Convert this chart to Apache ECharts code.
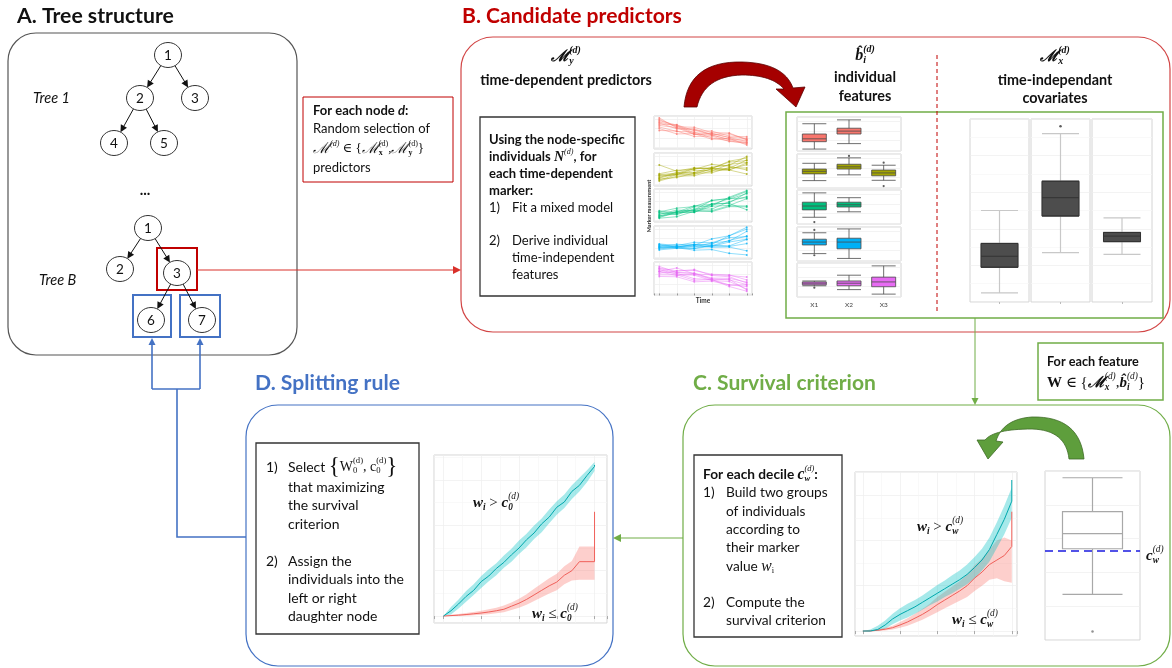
<!DOCTYPE html>
<html><head><meta charset="utf-8">
<script src="https://cdn.jsdelivr.net/npm/echarts@6/dist/echarts.min.js"></script>
<style>html,body{margin:0;padding:0;background:#fff}#c{width:1172px;height:668px}</style>
</head><body><div id="c"></div>
<script>
// ================= DATA =================
const tree1Labels = ['1','2','3','4','5'];
const tree1Edges = [[0,1],[0,2],[1,3],[1,4]];
const treeBLabels = ['1','2','3','6','7'];
const treeBEdges = [[0,1],[0,2],[2,3],[2,4]];

const trajTimes = [0,1,2,3,4,5];
const trajRed = [
 [9.4,6.2,5.9,4.1,4.3,2.6],[8.5,7.1,4.6,4.5,3.2,2.9],[7.8,5.9,5.6,null,2.4,1.6],[7.0,6.3,4.1,4.4,3.1,1.9],
 [6.5,5.1,4.9,3.0,null,1.2],[8.1,6.8,4.2,3.9,2.6,2.3],[6.0,4.3,4.4,2.6,2.9,0.8],[7.4,7.2,5.3,5.2,3.6,3.4],
 [5.4,5.2,3.5,3.6,1.9,1.5],[8.9,6.6,6.4,4.7,4.6,2.4]];
const trajOlive = [
 [2.0,3.4,3.8,5.5,6.1,8.9],[2.6,3.1,4.5,4.3,6.4,7.0],[1.4,3.1,3.2,5.0,4.7,6.3],[3.1,3.6,5.1,5.0,7.4,8.4],
 [6.2,4.2,5.3,5.1,4.6,3.3],[2.2,3.8,3.6,4.9,5.1,7.8],[1.7,2.2,3.6,3.7,5.4,5.2],[3.4,4.5,4.8,6.4,5.8,4.6],
 [2.9,3.2,5.0,5.2,7.1,7.6],[1.1,2.6,2.8,4.3,4.6,6.8]];
const trajGreen = [
 [1.5,2.1,4.3,4.6,7.4,9.5],[0.9,2.6,2.6,5.1,5.6,8.8],[2.1,2.6,4.7,5.1,6.9,7.2],[1.1,2.7,2.6,4.5,4.8,6.9],
 [2.7,3.9,4.4,6.3,7.1,9.2],[0.7,1.2,2.9,3.1,4.7,4.6],[1.9,3.3,3.1,5.3,5.4,3.4],[2.6,1.8,3.7,3.6,6.0,7.6],
 [1.4,2.9,3.3,6.4,6.8,8.5],[3.1,2.2,3.2,2.8,4.4,4.3]];
const trajBlue = [
 [3.6,3.3,4.1,4.2,6.9,9.0],[3.1,3.6,3.3,4.6,5.2,8.3],[3.9,3.3,4.2,3.7,5.4,6.8],[2.7,3.3,2.9,3.9,3.7,5.7],
 [4.1,3.5,3.9,3.2,3.3,2.1],[3.0,3.1,2.3,2.5,1.3,0.8],[3.5,4.2,3.9,5.9,6.9,9.6],[2.4,2.9,2.8,3.6,3.5,4.4],
 [4.3,3.8,4.8,4.7,6.3,6.6],[3.3,3.0,3.6,3.5,4.9,5.8]];
const trajPink = [
 [8.1,7.2,7.3,6.1,5.9,4.3],[7.0,6.4,4.7,4.4,2.7,2.2],[6.4,7.1,7.6,5.7,5.3,3.3],[7.6,6.1,5.8,4.1,3.8,1.4],
 [5.9,5.9,4.2,4.4,2.2,0.7],[7.9,6.6,6.5,4.6,4.3,2.8],[5.4,5.3,3.7,3.9,2.7,2.7],[7.1,8.1,6.2,5.9,5.7,5.2],
 [6.9,5.7,6.1,4.5,4.5,1.1],[8.6,6.7,6.3,4.9,4.8,3.6]];

const featCategories = ['X1','X2','X3'];
const featBoxes1 = [[0.3,2.6,3.5,5.0,8.2],[2.0,5.0,5.9,6.8,9.4]];
const featBoxes2 = [[2.0,4.1,4.9,5.6,7.4],[3.8,5.6,6.3,7.1,9.1],[2.1,3.5,4.4,5.3,6.8]];
const featBoxes3 = [[1.8,4.1,5.3,6.5,9.4],[3.5,5.0,5.7,6.5,7.9]];
const featBoxes4 = [[2.0,4.7,5.6,6.5,8.5],[0.5,3.5,5.6,6.8,9.7]];
const featBoxes5 = [[3.2,3.5,4.0,4.4,4.7],[2.0,3.2,4.0,4.7,6.5],[0.6,2.9,4.4,5.9,9.4]];
const featOutliers1 = [];
const featOutliers2 = [[1,9.7],[2,7.6],[2,0.3]];
const featOutliers3 = [[0,0.3]];
const featOutliers4 = [[0,9.4],[0,1.5]];
const featOutliers5 = [[0,2.6]];

const covBoxes = [[0.5,1.9,2.5,3.2,5.0],[2.7,4.7,5.7,6.6,9.2],[2.6,3.3,3.6,3.8,4.6]];
const covOutliers = [[],[9.6],[]];

const survTimes = [0,0.2,0.4,0.6,0.8,1.0,1.2,1.4,1.6,1.8,2.0,2.2,2.4,2.6,2.8,3.0,3.2,3.4,3.6,3.8,4.0,4.0];
const cyanD   = [0,0.035,0.08,0.13,0.17,0.228,0.265,0.315,0.355,0.405,0.45,0.505,0.55,0.61,0.655,0.72,0.755,0.825,0.865,0.93,0.99,1.0];
const cyanDLo = [0,0.01,0.05,0.095,0.14,0.185,0.23,0.27,0.32,0.36,0.41,0.455,0.51,0.555,0.615,0.67,0.715,0.775,0.825,0.885,0.96,0.97];
const cyanDHi = [0,0.06,0.11,0.165,0.21,0.265,0.31,0.35,0.40,0.445,0.50,0.545,0.60,0.645,0.705,0.76,0.805,0.865,0.915,0.965,1.02,1.02];
const redD    = [0,0.003,0.006,0.01,0.015,0.02,0.027,0.035,0.045,0.065,0.085,0.11,0.14,0.17,0.20,0.225,0.27,0.30,0.36,0.36,0.36,0.69];
const redDLo  = [0,0,0,0.002,0.005,0.008,0.012,0.018,0.025,0.04,0.055,0.075,0.10,0.125,0.15,0.17,0.21,0.235,0.24,0.24,0.24,0.24];
const redDHi  = [0,0.008,0.014,0.02,0.027,0.035,0.045,0.055,0.07,0.09,0.115,0.145,0.18,0.215,0.25,0.28,0.33,0.365,0.46,0.46,0.46,0.46];
const cyanC   = [0,0,0.01,0.04,0.08,0.11,0.135,0.16,0.19,0.22,0.25,0.28,0.31,0.34,0.375,0.42,0.47,0.54,0.64,0.74,0.86,1.0];
const cyanCLo = [0,0,0,0.015,0.045,0.07,0.09,0.115,0.14,0.17,0.195,0.225,0.25,0.28,0.31,0.35,0.40,0.46,0.55,0.64,0.75,0.75];
const cyanCHi = [0,0.01,0.035,0.07,0.115,0.15,0.18,0.205,0.235,0.27,0.305,0.335,0.37,0.40,0.44,0.49,0.545,0.62,0.72,0.83,0.95,0.95];
const redC    = [0,0,0.005,0.012,0.022,0.04,0.06,0.085,0.11,0.14,0.175,0.205,0.235,0.265,0.30,0.35,0.39,0.44,0.47,0.50,0.56,0.79];
const redCLo  = [0,0,0,0.004,0.01,0.022,0.035,0.055,0.075,0.10,0.125,0.15,0.175,0.20,0.225,0.265,0.30,0.34,0.35,0.33,0.32,0.32];
const redCHi  = [0,0.005,0.012,0.022,0.035,0.06,0.085,0.115,0.145,0.18,0.225,0.26,0.295,0.33,0.375,0.435,0.48,0.54,0.60,0.62,0.60,0.60];

const boxC = [2.7,5.4,6.3,7.6,9.6];
const boxCOutliers = [0.5];
const decileC = 5.3;

// ================= HELPERS =================
const SANS = 'Lato, "Open Sans", "Liberation Sans", sans-serif';
const SERIF = '"Liberation Serif", "DejaVu Serif", serif';
const mctx = document.createElement('canvas').getContext('2d');
function fontOf(p){ return (p.style||'normal')+' '+(p.weight||'normal')+' '+p.size+'px '+p.family; }
function measure(p){ mctx.font = fontOf(p); return mctx.measureText(p.t).width; }
function fit(t, target, weight, style, family){ return 20*target/measure({t:t,size:20,weight:weight||'normal',style:style||'normal',family:family||SANS}); }

const G = [];
function runs(x, y, parts, o){
  o = o || {};
  const base = Object.assign({size:13, family:SANS, weight:'normal', style:'normal', color:'#111'}, o.base||{});
  const ps = parts.map(p => {
    const src = typeof p === 'string' ? {t:p} : p;
    const q = Object.assign({}, base, src);
    if (q.k === 'sup') { if (!src.size) q.size = base.size*0.62; q.dy = (q.dy||0) - base.size*0.42; }
    if (q.k === 'sub') { if (!src.size) q.size = base.size*0.62; q.dy = (q.dy||0) + base.size*0.3; }
    return q;
  });
  const ws = ps.map(measure);
  let cx = 0, stackW = 0; const pos = [];
  ps.forEach((p,i)=>{ pos.push(cx); if (p.stack) stackW = ws[i]; else { cx += Math.max(ws[i], stackW); stackW = 0; } });
  const x0 = o.align === 'center' ? x - cx/2 : (o.align === 'right' ? x - cx : x);
  ps.forEach((p,i)=>{
    G.push({type:'text', x:x0+pos[i], y:y+(p.dy||0), z:100, silent:true,
      style:{text:p.t, fontSize:p.size, fontFamily:p.family, fontWeight:p.weight, fontStyle:p.style, fill:p.color, align:'left', verticalAlign:'middle'}});
  });
}
function rbox(x,y,w,h,r,stroke,lw,dash){
  G.push({type:'rect', z:1, silent:true, shape:{x:x,y:y,width:w,height:h,r:r}, style:{fill:'none', stroke:stroke, lineWidth:lw, lineDash:dash||null}});
}
function seg(pts,color,lw,dash){
  G.push({type:'polyline', z:20, silent:true, shape:{points:pts}, style:{stroke:color, lineWidth:lw, fill:'none', lineDash:dash||null}});
}
function arrow(x1,y1,x2,y2,color,lw,hs){
  const dx=x2-x1, dy=y2-y1, L=Math.hypot(dx,dy), ux=dx/L, uy=dy/L;
  const bx=x2-ux*hs, by=y2-uy*hs;
  G.push({type:'line', z:20, silent:true, shape:{x1:x1,y1:y1,x2:bx+ux,y2:by+uy}, style:{stroke:color, lineWidth:lw}});
  G.push({type:'polygon', z:20, silent:true, shape:{points:[[x2,y2],[bx-uy*hs*0.5,by+ux*hs*0.5],[bx+uy*hs*0.5,by-ux*hs*0.5]]}, style:{fill:color}});
}
function shapePts(start, cmds){
  const pts=[start]; let cur=start;
  cmds.forEach(c=>{
    if (c.length===4){ const [qx,qy,ex,ey]=c; for(let s=1;s<=16;s++){ const t=s/16, a=(1-t)*(1-t), b=2*(1-t)*t, d=t*t; pts.push([a*cur[0]+b*qx+d*ex, a*cur[1]+b*qy+d*ey]); } cur=[ex,ey]; }
    else { pts.push(c); cur=c; }
  });
  return pts;
}

// ================= LAYOUT: diagram =================
rbox(8,33,289,322,28,'#555',1.2);
rbox(461,37,709,295,32,'#D24545',1.2);
rbox(683,405,487,261,32,'#70AD47',1.2);
rbox(246,405,367,261,32,'#4472C4',1.2);
rbox(303,97,150,85,0,'#C00000',1);
rbox(480,117,155,179,0,'#333',1.3);
rbox(786,112,377,206,0,'#70AD47',1.5);
rbox(1038,343,125,57,0,'#70AD47',1.5);
rbox(694,455,148,182,0,'#333',1.3);
rbox(256,443,163,191,0,'#333',1.3);
rbox(157,248,40,42,0,'#C00000',2);
rbox(133,295,38,42,0,'#4472C4',2);
rbox(180,295,40,42,0,'#4472C4',2);
seg([[937,55],[937,312]],'#C00000',1,[4,3]);

function drawTree(labels, edges, pos){
  edges.forEach(e=>{
    const p=pos[e[0]], c=pos[e[1]];
    const dx=c[0]-p[0], dy=c[1]-p[1], L=Math.hypot(dx,dy), ux=dx/L, uy=dy/L;
    arrow(p[0]+ux*12.5, p[1]+uy*12, c[0]-ux*13, c[1]-uy*12.5, '#111', 1, 7);
  });
  labels.forEach((l,i)=>{
    G.push({type:'ellipse', z:30, silent:true, shape:{cx:pos[i][0], cy:pos[i][1], rx:13.5, ry:12.5}, style:{fill:'#fff', stroke:'#333', lineWidth:1}});
    G.push({type:'text', z:31, silent:true, x:pos[i][0], y:pos[i][1]+0.5, style:{text:l, fontSize:13.5, fontFamily:SANS, fill:'#111', align:'center', verticalAlign:'middle'}});
  });
}
drawTree(tree1Labels, tree1Edges, [[168,55],[140,98],[195,98],[114,143],[164,143]]);
drawTree(treeBLabels, treeBEdges, [[148,228],[120,269],[177,273],[151,320],[202,320]]);

arrow(197,270,461,270,'#D9302A',1,8);
arrow(975,318,975,405,'#70AD47',1,7);
arrow(683,538,613,538,'#70AD47',1,8);
seg([[246,537],[177,537],[177,389]],'#4472C4',1.6);
seg([[152,389],[200,389]],'#4472C4',1.6);
arrow(152,389,152,338,'#4472C4',1.6,7);
arrow(200,389,200,338,'#4472C4',1.6,7);

G.push({type:'polygon', z:25, silent:true, shape:{points:shapePts([684,107],[[688,61,742,62],[784,63,793,88],[805,87],[796,107],[776,89],[784,89],[772,75,742,75],[704,76,697,107]])},
  style:{fill:'#A50000', stroke:'#5a0000', lineWidth:0.8}});
G.push({type:'polygon', z:25, silent:true, shape:{points:shapePts([1084,459],[[1080,416,1032,417],[1003,419,996,441],[1003,442],[988,459],[977,440],[985,440],[994,429,1032,429],[1066,430,1069,459]])},
  style:{fill:'#5E9E3C', stroke:'#3d6b26', lineWidth:0.8}});

// ================= TEXT =================
runs(17,16,[{t:'A. Tree structure', weight:'bold', size:fit('A. Tree structure',157,'bold')}]);
runs(462,16,[{t:'B. Candidate predictors', weight:'bold', color:'#C00000', size:fit('B. Candidate predictors',220,'bold')}]);
runs(693,383,[{t:'C. Survival criterion', weight:'bold', color:'#70AD47', size:fit('C. Survival criterion',183,'bold')}]);
runs(255,383,[{t:'D. Splitting rule', weight:'bold', color:'#4472C4', size:fit('D. Splitting rule',145,'bold')}]);

const TI = fit('Tree 1',37,'normal','italic');
runs(33,98,[{t:'Tree 1', style:'italic', size:TI}]);
runs(39,280,[{t:'Tree B', style:'italic', size:TI}]);
runs(145,190,[{t:'...', weight:'bold', size:15}],{align:'center'});

const S1 = fit('Random selection of',117);
const m1 = {size:S1};
runs(313,111,[{t:'For each node ', weight:'bold'},{t:'d', weight:'bold', style:'italic'},{t:':', weight:'bold'}],{base:m1});
runs(313,129,['Random selection of'],{base:m1});
runs(313,149,[{t:'ℳ', family:SERIF, style:'italic', size:S1+2},{t:'(d)', family:SERIF, style:'italic', k:'sup'},{t:' ∈ {', family:SERIF},
  {t:'ℳ', family:SERIF, style:'italic', size:S1+2},{t:'(d)', family:SERIF, k:'sup', stack:true},{t:'x', family:SERIF, weight:'bold', k:'sub'},{t:',', family:SERIF},
  {t:'ℳ', family:SERIF, style:'italic', size:S1+2},{t:'(d)', family:SERIF, k:'sup', stack:true},{t:'y', family:SERIF, weight:'bold', k:'sub'},{t:'}', family:SERIF}],{base:m1});
runs(313,168,['predictors'],{base:m1});

const HB = fit('time-dependent predictors',172,'bold');
const mh = {size:16, family:SERIF, weight:'bold', style:'italic'};
runs(566,57,[{t:'ℳ'},{t:'(d)', k:'sup', stack:true},{t:'y', k:'sub'}],{base:mh, align:'center'});
runs(566,80,[{t:'time-dependent predictors', weight:'bold', size:HB}],{align:'center'});
runs(865,56,[{t:'b̂'},{t:'(d)', k:'sup', stack:true},{t:'i', k:'sub'}],{base:mh, align:'center'});
runs(865,77,[{t:'individual', weight:'bold', size:HB}],{align:'center'});
runs(865,96,[{t:'features', weight:'bold', size:HB}],{align:'center'});
runs(1055,57,[{t:'ℳ'},{t:'(d)', k:'sup', stack:true},{t:'x', k:'sub'}],{base:mh, align:'center'});
runs(1055,80,[{t:'time-independant', weight:'bold', size:HB}],{align:'center'});
runs(1055,98,[{t:'covariates', weight:'bold', size:HB}],{align:'center'});

const S2 = fit('Using the node-specific',136,'bold');
const m2 = {size:S2};
runs(489,140,[{t:'Using the node-specific', weight:'bold'}],{base:m2});
runs(489,157,[{t:'individuals ', weight:'bold'},{t:'N', family:SERIF, weight:'bold', style:'italic', size:S2+1},{t:'(d)', family:SERIF, style:'italic', k:'sup'},{t:', for', weight:'bold'}],{base:m2});
runs(489,174,[{t:'each time-dependent', weight:'bold'}],{base:m2});
runs(489,191,[{t:'marker:', weight:'bold'}],{base:m2});
runs(489,208,['1)'],{base:m2}); runs(512,208,['Fit a mixed model'],{base:m2});
runs(489,241,['2)'],{base:m2}); runs(512,241,['Derive individual'],{base:m2});
runs(512,258,['time-independent'],{base:m2});
runs(512,275,['features'],{base:m2});

const SW = fit('For each feature',92,'bold');
runs(1047,362,[{t:'For each feature', weight:'bold', size:SW}]);
runs(1047,383,[{t:'W', family:SERIF, weight:'bold'},{t:' ∈ {', family:SERIF},{t:'ℳ', family:SERIF, weight:'bold', style:'italic'},{t:'(d)', family:SERIF, style:'italic', k:'sup', stack:true},{t:'x', family:SERIF, style:'italic', weight:'bold', k:'sub'},
  {t:',', family:SERIF},{t:'b̂', family:SERIF, weight:'bold', style:'italic'},{t:'(d)', family:SERIF, style:'italic', k:'sup', stack:true},{t:'i', family:SERIF, style:'italic', weight:'bold', k:'sub'},{t:'}', family:SERIF}],{base:{size:15}});

const S3 = fit('survival criterion',100);
const m3 = {size:S3};
runs(703,475,[{t:'For each decile ', weight:'bold'},{t:'c', family:SERIF, weight:'bold', style:'italic', size:S3+2},{t:'(d)', family:SERIF, style:'italic', k:'sup', stack:true},{t:'w', family:SERIF, weight:'bold', style:'italic', k:'sub'},{t:':', weight:'bold'}],{base:m3});
runs(703,493,['1)'],{base:m3}); runs(726,493,['Build two groups'],{base:m3});
runs(726,512,['of individuals'],{base:m3});
runs(726,530,['according to'],{base:m3});
runs(726,548,['their marker'],{base:m3});
runs(726,567,['value ',{t:'w', family:SERIF, style:'italic', size:S3+2},{t:'i', family:SERIF, k:'sub'}],{base:m3});
runs(703,603,['2)'],{base:m3}); runs(726,603,['Compute the'],{base:m3});
runs(726,621,['survival criterion'],{base:m3});

const S4 = fit('individuals into the',116);
const m4 = {size:S4};
runs(266,467,['1)'],{base:m4});
runs(288,467,['Select ',{t:'{', family:SERIF, size:S4+9},{t:'W', family:SERIF},{t:'(d)', family:SERIF, k:'sup', stack:true},{t:'0', family:SERIF, k:'sub'},{t:', c', family:SERIF},{t:'(d)', family:SERIF, k:'sup', stack:true},{t:'0', family:SERIF, k:'sub'},{t:'}', family:SERIF, size:S4+9}],{base:m4});
runs(288,487,['that maximizing'],{base:m4});
runs(288,505,['the survival'],{base:m4});
runs(288,524,['criterion'],{base:m4});
runs(266,561,['2)'],{base:m4}); runs(288,561,['Assign the'],{base:m4});
runs(288,579,['individuals into the'],{base:m4});
runs(288,598,['left or right'],{base:m4});
runs(288,616,['daughter node'],{base:m4});

const ma = {size:15, family:SERIF, weight:'bold', style:'italic'};
function wLabel(x,y,op,cs){
  runs(x,y,[{t:'w'},{t:'i', k:'sub'},{t:op, style:'normal', weight:'normal'},{t:'c'},{t:'(d)', k:'sup', stack:true, weight:'normal'},{t:cs, k:'sub'}],{base:ma});
}
wLabel(473,503,' > ','0');
wLabel(532,614,' ≤ ','0');
wLabel(917,527,' > ','w');
wLabel(952,620,' ≤ ','w');
runs(1146,556,[{t:'c'},{t:'(d)', k:'sup', stack:true, weight:'normal'},{t:'w', k:'sub'}],{base:ma});

G.push({type:'text', z:100, silent:true, x:649, y:206, rotation:Math.PI/2, style:{text:'Marker measurement', fontSize:5.5, fontWeight:'bold', fontFamily:SANS, fill:'#333', align:'center', verticalAlign:'middle'}});
runs(703,301,[{t:'Time', weight:'bold', size:6.5, color:'#333'}],{align:'center'});

// ================= CHARTS =================
const grids=[], xAxes=[], yAxes=[], series=[];
const PANEL = {show:true, borderColor:'#d4d4d4', borderWidth:1, backgroundColor:'#fff'};
const SPL = {show:true, lineStyle:{color:'#eeeeee', width:0.7}};
function addGrid(left, top, width, height){ grids.push(Object.assign({left, top, width, height, containLabel:false}, PANEL)); return grids.length-1; }
function hiddenVal(gi, min, max, extra){
  return Object.assign({gridIndex:gi, type:'value', min, max, axisLabel:{show:false}, axisLine:{show:false}, axisTick:{show:false}, splitLine:SPL}, extra||{});
}
function pushX(a){ xAxes.push(a); return xAxes.length-1; }
function pushY(a){ yAxes.push(a); return yAxes.length-1; }

const ggCols = ['#F8766D','#A3A500','#00BF7D','#00B0F6','#E76BF3'];
const trajPanels = [trajRed, trajOlive, trajGreen, trajBlue, trajPink];
const trajTops = [116,153,189,226,262];
trajPanels.forEach((panel,k)=>{
  const gi = addGrid(654, trajTops[k], 98, 33);
  const xi = pushX(hiddenVal(gi,-0.3,5.3,{axisTick:{show:k===4, length:2, lineStyle:{color:'#999'}}, splitNumber:5}));
  const yi = pushY(hiddenVal(gi,-0.5,10,{splitNumber:3}));
  panel.forEach(ind=>{
    series.push({type:'line', xAxisIndex:xi, yAxisIndex:yi, silent:true, symbol:'circle', symbolSize:2,
      data: ind.map((v,j)=>[trajTimes[j], v]).filter(d=>d[1]!==null),
      lineStyle:{color:ggCols[k], width:0.8, opacity:0.55}, itemStyle:{color:ggCols[k], opacity:0.75}});
  });
});

const featPanels = [featBoxes1,featBoxes2,featBoxes3,featBoxes4,featBoxes5];
const featOut = [featOutliers1,featOutliers2,featOutliers3,featOutliers4,featOutliers5];
const featTops = [117,154,190,227,263];
featPanels.forEach((boxes,k)=>{
  const gi = addGrid(797, featTops[k], 104, 34);
  const xi = pushX({gridIndex:gi, type:'category', data:featCategories, axisLine:{show:false},
    axisTick:{show:false}, axisLabel:{show:k===4, fontSize:6.5, color:'#444', margin:4, fontFamily:SANS}, splitLine:{show:false}});
  const yi = pushY(hiddenVal(gi,-0.3,10.3,{splitNumber:3}));
  series.push({type:'boxplot', xAxisIndex:xi, yAxisIndex:yi, silent:true, boxWidth:[24,24], data:boxes,
    itemStyle:{color:ggCols[k], borderColor:'#4a4a4a', borderWidth:0.8}});
  series.push({type:'scatter', xAxisIndex:xi, yAxisIndex:yi, silent:true, symbolSize:2.2, data:featOut[k], itemStyle:{color:'#333'}});
});

const covLefts = [970,1031,1092];
covBoxes.forEach((b,k)=>{
  const gi = addGrid(covLefts[k], 119, k===2?60:59, 183);
  const xa = pushX({gridIndex:gi, type:'category', data:[''], axisLine:{show:false}, axisLabel:{show:false}, axisTick:{show:true, alignWithLabel:true, length:2, lineStyle:{color:'#bbb'}}, splitLine:{show:false}});
  const xb = pushX({gridIndex:gi, type:'category', data:[''], axisLine:{show:false}, axisLabel:{show:false}, axisTick:{show:false}, splitLine:{show:false}});
  const ya = pushY(hiddenVal(gi,0,10,{splitNumber:5, minorSplitLine:{show:true, lineStyle:{color:'#f6f6f6', width:0.7}}, minorTick:{show:false, splitNumber:2}}));
  series.push({type:'boxplot', xAxisIndex:xa, yAxisIndex:ya, silent:true, boxWidth:[37,37], data:[b],
    itemStyle:{color:'#4d4d4d', borderColor:'#c8c8c8', borderWidth:1.2}});
  series.push({type:'boxplot', xAxisIndex:xb, yAxisIndex:ya, silent:true, boxWidth:[37,37], data:[[b[1],b[1],b[2],b[3],b[3]]],
    itemStyle:{color:'#4d4d4d', borderColor:'#333', borderWidth:1}});
  series.push({type:'scatter', xAxisIndex:xa, yAxisIndex:ya, silent:true, symbolSize:2.5, data:covOutliers[k].map(v=>[0,v]), itemStyle:{color:'#333'}});
});

// confidence band: polygon through (t, hi) forward and (t, lo) backward
function bandPolygon(times, lo, hi, color){
  return function(params, api){
    const up=[], dn=[];
    for (let i=0;i<times.length;i++){ up.push(api.coord([times[i], hi[i]])); dn.push(api.coord([times[i], lo[i]])); }
    return {type:'polygon', shape:{points: up.concat(dn.reverse())}, style:{fill:color, opacity:0.35}};
  };
}
function survPanel(xi, yi, times, list){
  list.forEach(s=>{
    series.push({type:'custom', xAxisIndex:xi, yAxisIndex:yi, silent:true, data:[[times[0], s.lo[0]]],
      renderItem: bandPolygon(times, s.lo, s.hi, s.color), z:1});
  });
  list.forEach(s=>{
    series.push({type:'line', xAxisIndex:xi, yAxisIndex:yi, silent:true, showSymbol:false,
      data: times.map((t,i)=>[t, s.v[i]]), lineStyle:{color:s.line, width:1}, z:3});
  });
}
const survAxisX = (gi,min,max)=>hiddenVal(gi,min,max,{splitNumber:4, axisTick:{show:true, length:3, lineStyle:{color:'#aaa'}},
  minorSplitLine:{show:true, lineStyle:{color:'#f5f5f5', width:0.6}}, minorTick:{show:false, splitNumber:2}});
const survAxisY = (gi,min,max)=>hiddenVal(gi,min,max,{splitNumber:4,
  minorSplitLine:{show:true, lineStyle:{color:'#f5f5f5', width:0.6}}, minorTick:{show:false, splitNumber:2}});

const gD = addGrid(434,455,173,168);
survPanel(pushX(survAxisX(gD,-0.25,4.33)), pushY(survAxisY(gD,-0.046,1.066)), survTimes, [
  {v:redD, lo:redDLo, hi:redDHi, color:'#F8766D', line:'#F0605A'},
  {v:cyanD, lo:cyanDLo, hi:cyanDHi, color:'#00BFC4', line:'#00A8AD'}]);

const gC = addGrid(855,472,162,164);
survPanel(pushX(survAxisX(gC,-0.21,4.14)), pushY(survAxisY(gC,-0.033,1.053)), survTimes, [
  {v:redC, lo:redCLo, hi:redCHi, color:'#F8766D', line:'#F0605A'},
  {v:cyanC, lo:cyanCLo, hi:cyanCHi, color:'#00BFC4', line:'#00A8AD'}]);

const gB = addGrid(1045,471,95,169);
const xB = pushX({gridIndex:gB, type:'category', data:[''], axisLine:{show:false}, axisLabel:{show:false}, axisTick:{show:false}, splitLine:{show:false}});
const yB = pushY(hiddenVal(gB,0,10,{splitNumber:5}));
series.push({type:'boxplot', xAxisIndex:xB, yAxisIndex:yB, silent:true, boxWidth:[60,60], data:[boxC],
  itemStyle:{color:'#fff', borderColor:'#a8a8a8', borderWidth:1.2},
  markLine:{silent:true, symbol:'none', label:{show:false}, lineStyle:{color:'#1a1adf', type:[8,5], width:1.6}, data:[{yAxis:decileC}]}});
series.push({type:'scatter', xAxisIndex:xB, yAxisIndex:yB, silent:true, symbolSize:2.5, data:boxCOutliers.map(v=>[0,v]), itemStyle:{color:'#777'}});

const chart = echarts.init(document.getElementById('c'), null, {renderer:'canvas'});
chart.setOption({animation:false, backgroundColor:'#fff', grid:grids, xAxis:xAxes, yAxis:yAxes, series:series, graphic:{elements:G}});
</script></body></html>
